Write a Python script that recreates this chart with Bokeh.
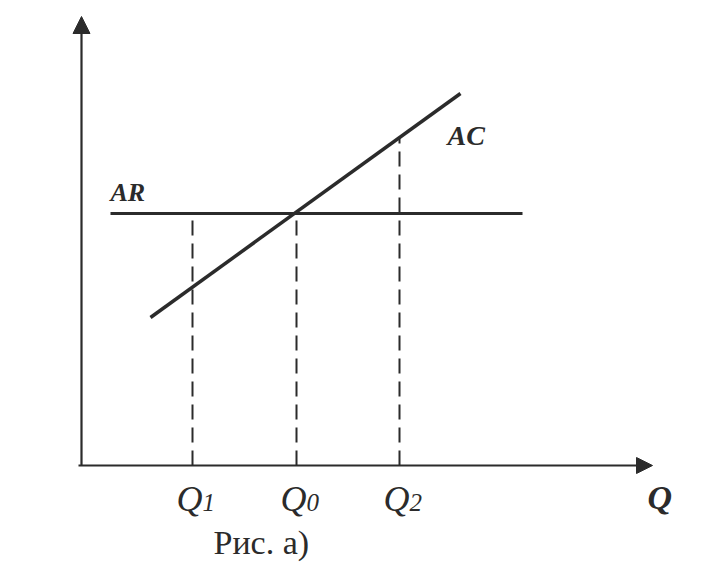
from bokeh.plotting import figure
from bokeh.models import Range1d, Arrow, NormalHead, ColumnDataSource
from bokeh.core.properties import value
from bokeh.embed import file_html
from bokeh.resources import INLINE

# ---- data (schematic units, origin at axes crossing) ----
q_names = ["Q", "Q", "Q"]
q_subs = ["1", "0", "2"]
q_values = [111, 215, 318]          # Q1, Q0, Q2
ar_level = 252                      # average revenue (price) level
ar_q = [29, 441]                    # AR line extent along Q
ac_q = [69, 379]                    # AC line endpoints (Q)
ac_c = [148, 372]                   # AC line endpoints (cost)
axis_y_top = 449
axis_x_end = 571

INK = "#2b2b2b"
SERIF = "Liberation Serif"

p = figure(width=704, height=564, output_backend="svg", toolbar_location=None,
           x_range=Range1d(-81, 623), y_range=Range1d(-99, 465),
           min_border=0, background_fill_color="white", border_fill_color="white")
p.axis.visible = False
p.grid.visible = False
p.outline_line_color = None

# axes with arrows
p.add_layout(Arrow(x_start=0, y_start=0, x_end=0, y_end=axis_y_top,
                   line_color=INK, line_width=2.2,
                   end=NormalHead(size=17, fill_color=INK, line_color=INK)))
p.add_layout(Arrow(x_start=-3, y_start=0, x_end=axis_x_end, y_end=0,
                   line_color=INK, line_width=2.2,
                   end=NormalHead(size=16, fill_color=INK, line_color=INK)))

# AC value at a given Q (straight line through the endpoints)
slope = (ac_c[1] - ac_c[0]) / (ac_q[1] - ac_q[0])
def ac_at(q):
    return ac_c[0] + slope * (q - ac_q[0])

# dashed verticals
tops = [ar_level, ar_level, ac_at(q_values[2])]
for q, t in zip(q_values, tops):
    p.line([q, q], [0, t], line_color=INK, line_width=2, line_dash="15 8")

# AR horizontal
p.line(ar_q, [ar_level, ar_level], line_color=INK, line_width=3)
# AC line
p.line(ac_q, ac_c, line_color=INK, line_width=3.5)

# labels
src = ColumnDataSource(dict(x=[q + 10 for q in q_values], y=[-33] * 3,
                            n=q_names, s=q_subs))
p.text(x="x", y="y", text="n", source=src, text_font=value(SERIF),
       text_font_style="italic", text_font_size="36px", text_color=INK,
       text_align="right", text_baseline="alphabetic")
p.text(x="x", y="y", text="s", source=src, text_font=value(SERIF),
       text_font_style="italic", text_font_size="25px", text_color=INK,
       text_align="left", text_baseline="alphabetic", y_offset=4)

p.text(x=[29], y=[273], text=["AR"], text_font=value(SERIF),
       text_font_style="bold italic", text_font_size="26px", text_color=INK,
       text_baseline="alphabetic")
p.text(x=[366], y=[330], text=["AC"], text_font=value(SERIF),
       text_font_style="bold italic", text_font_size="28px", text_color=INK,
       text_baseline="alphabetic")
p.text(x=[566], y=[-32], text=["Q"], text_font=value(SERIF),
       text_font_style="bold italic", text_font_size="34px", text_color=INK,
       text_baseline="alphabetic")
p.text(x=[132], y=[-77], text=["Рис. а)"], text_font=value(SERIF),
       text_font_size="34px", text_color=INK, text_baseline="alphabetic")

open("out.html", "w").write(file_html(p, INLINE))
